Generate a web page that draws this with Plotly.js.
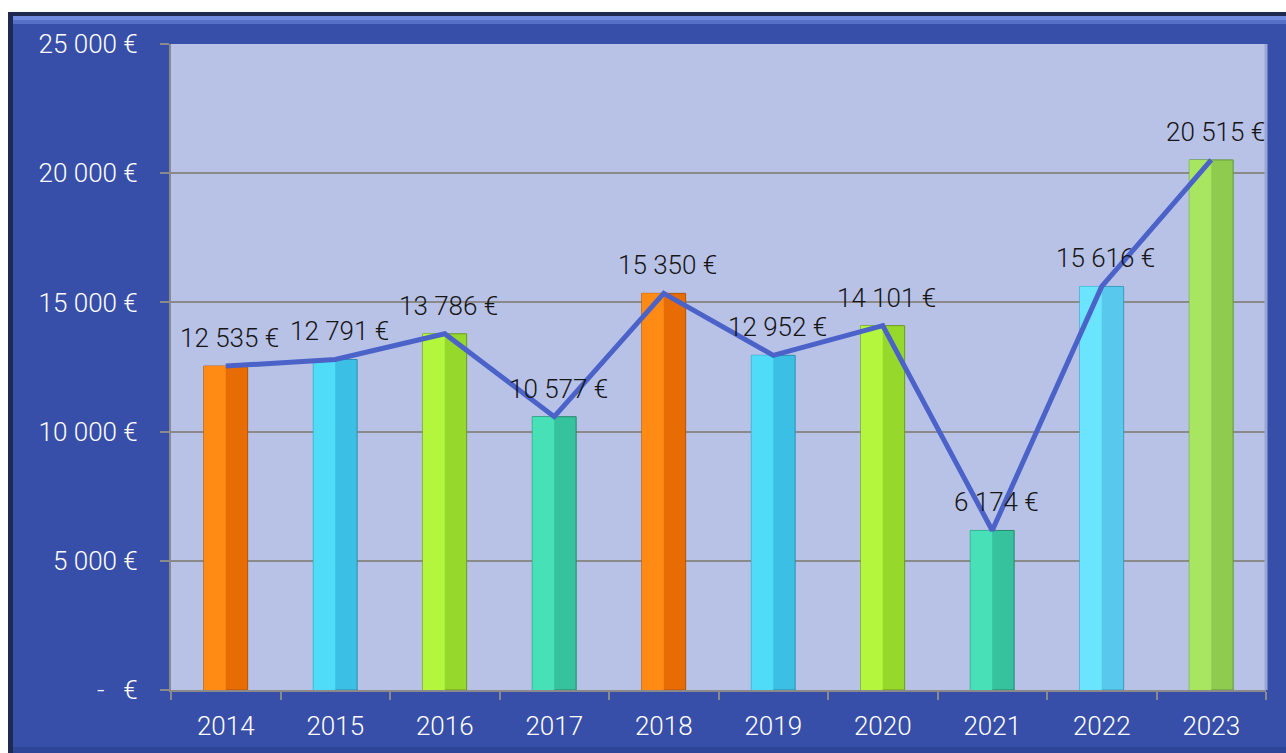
<!DOCTYPE html>
<html>
<head>
<meta charset="utf-8">
<script src="https://cdn.plot.ly/plotly-3.0.1.min.js"></script>
<style>html,body{margin:0;padding:0;background:#fff;}#chart{width:1286px;height:753px;}</style>
</head>
<body>
<div id="chart"></div>
<script>
// ---- data ----
const years = ['2014','2015','2016','2017','2018','2019','2020','2021','2022','2023'];
const values = [12535, 12791, 13786, 10577, 15350, 12952, 14101, 6174, 15616, 20515];
const valueLabels = ['12 535 €','12 791 €','13 786 €','10 577 €','15 350 €','12 952 €','14 101 €','6 174 €','15 616 €','20 515 €'];
const yTickVals = [0, 5000, 10000, 15000, 20000, 25000];
const yTickText = ['-\u00a0\u00a0\u00a0€', '5 000 €', '10 000 €', '15 000 €', '20 000 €', '25 000 €'];

// ---- styles ----
const lightColors = ['#ff8b14','#4edcf8','#b4f63e','#48e0b6','#ff8b14','#4edcf8','#b4f63e','#48e0b6','#6ae4ff','#a8e662'];
const darkColors  = ['#e86c04','#3bbfe4','#97d82c','#36c29c','#e86c04','#3bbfe4','#97d82c','#36c29c','#58c9ec','#8fcb4e'];
const edgeColors  = ['#b55400','#2a8eb0','#6c9a1e','#25876c','#b55400','#2a8eb0','#6c9a1e','#25876c','#3c9cc0','#63973a'];

const W = 1286, H = 753, ML = 171, MR = 20, MT = 44, MB = 63;
const PW = W - ML - MR, PH = H - MT - MB;
const px = x => (x - ML) / PW;
const py = y => (H - MB - y) / PH;
function rect(x0, y0, x1, y1, color) {
  return {type:'rect', xref:'paper', yref:'paper', x0:px(x0), x1:px(x1), y0:py(y1), y1:py(y0),
          fillcolor:color, line:{width:0}, layer:'above'};
}

const traces = [
  {type:'bar', x: years, y: values, width: 0.4, offset: -0.2,
   marker:{color: darkColors, line:{color: edgeColors, width: 1}}, hoverinfo:'skip'},
  {type:'bar', x: years, y: values, width: 0.2, offset: -0.2,
   marker:{color: lightColors, line:{width: 0}}, hoverinfo:'skip'},
  {type:'scatter', mode:'lines', x: years, y: values,
   line:{color:'#4b62c9', width:5}, hoverinfo:'skip'}
];

// annotation x uses the category index (numeric-looking category names would be read as serial numbers)
const annotations = years.map((yr, i) => ({
  x: i, y: values[i], text: valueLabels[i], showarrow: false,
  xref:'x', yref:'y', yshift: 28, xshift: 4,
  font:{family:'Roboto, sans-serif', size:26, weight:300, color:'#151515'}
}));

const layout = {
  width: W, height: H,
  margin:{l:ML, r:MR, t:MT, b:MB, pad:0},
  paper_bgcolor:'#384fa9',
  plot_bgcolor:'#b8c2e7',
  showlegend:false,
  barmode:'overlay',
  font:{family:'Roboto, sans-serif', color:'#ffffff', size:26, weight:300},
  xaxis:{type:'category', range:[-0.5, years.length - 0.5], autorange:false,
         tickson:'boundaries', ticks:'outside', ticklen:8, tickwidth:2, tickangle:0,
         tickcolor:'#8a8a8a', showgrid:false, showline:true, linecolor:'#8a8a8a', linewidth:2,
         ticklabelstandoff:12,
         tickfont:{size:26, weight:300, color:'#ffffff'}, fixedrange:true},
  yaxis:{range:[0,25000], autorange:false, tickvals:yTickVals, ticktext:yTickText, ticks:'outside', ticklen:9,
         tickwidth:2, tickcolor:'#8a8a8a', showgrid:true, gridcolor:'#8a8a8a', gridwidth:2,
         zeroline:false, showline:true, linecolor:'#8a8a8a', linewidth:2,
         ticklabelstandoff:17, tickfont:{size:26, weight:300, color:'#ffffff'}, fixedrange:true},
  annotations: annotations,
  shapes: [
    {type:'line', xref:'paper', yref:'paper', x0:1, x1:1, y0:0, y1:1, line:{color:'#9aa6d6', width:3}, layer:'above'},
    rect(0, 0, W, 12, '#ffffff'),
    rect(0, 0, 8, H, '#ffffff'),
    rect(8, 12, W, 16, '#1f2a50'),
    rect(8, 12, 13, H, '#1f2a50'),
    rect(13, 16, W, 20, '#6f8ade'),
    rect(13, 20, W, 24, '#5670c8'),
    rect(13, 747, W, H, '#2f4597')
  ]
};

Plotly.newPlot('chart', traces, layout, {displayModeBar:false, staticPlot:true});
</script>
</body>
</html>
